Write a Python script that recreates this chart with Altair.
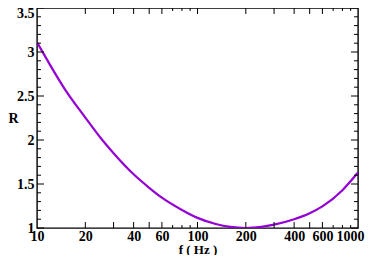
import altair as alt
import pandas as pd

# curve data
f_hz = [10, 12, 15, 20, 25, 30, 40, 50, 60, 80, 100, 130, 160, 200, 250, 300, 400, 500, 600, 800, 1000]
r_vals = [3.11, 2.86, 2.57, 2.255, 2.02, 1.85, 1.61, 1.457, 1.345, 1.205, 1.115, 1.045, 1.012, 1.0, 1.012, 1.038, 1.10, 1.168, 1.245, 1.43, 1.63]

x_labels = [10, 20, 40, 60, 100, 200, 400, 600, 1000]
x_major_ticks = [20, 30, 40, 50, 60, 100, 200, 300, 400, 500, 600]
x_minor_ticks = [70, 80, 90, 700, 800, 900]
y_labels = [1, 1.5, 2, 2.5, 3, 3.5]
y_minor_ticks = [1.1, 1.2, 1.3, 1.4, 1.6, 1.7, 1.8, 1.9, 2.1, 2.2, 2.3, 2.4,
                 2.6, 2.7, 2.8, 2.9, 3.1, 3.2, 3.3, 3.4]

W, H = 321, 220
FONT = "Liberation Serif"

df = pd.DataFrame({"f": f_hz, "R": r_vals})
xs = alt.Scale(type="log", domain=[10, 1000])
ys = alt.Scale(domain=[1, 3.5])

x_axis = alt.Axis(
    values=x_labels, format="d", title="f ( Hz )", labelFlush=False, labelOverlap=False,
    labelPadding=1, labelBaseline="top", titleY=25, titleBaseline="alphabetic",
    titleFontSize=13,
    labelOffset={"condition": {"test": "datum.value == 1000", "value": -8}, "value": 0})
y_axis = alt.Axis(
    values=y_labels, format="~g", title="R", titleAngle=0, titleX=-24, titleY=H / 2,
    titleAlign="center", titleBaseline="middle", labelPadding=3, labelFlush=False,
    labelOverlap=False,
    labelOffset={"condition": {"test": "datum.value == 3.5", "value": 5}, "value": 0})

line = alt.Chart(df).mark_line(
    color="#9400D3", strokeWidth=2.2, interpolate="monotone", clip=True
).encode(
    x=alt.X("f:Q", scale=xs, axis=x_axis),
    y=alt.Y("R:Q", scale=ys, axis=y_axis),
)


def xticks(vals, length):
    d = pd.DataFrame({"f": vals})
    b = alt.Chart(d).mark_rule(color="black", strokeWidth=1)
    bottom = b.encode(x=alt.X("f:Q", scale=xs, axis=x_axis), y=alt.value(H), y2=alt.value(H - length))
    top = b.encode(x=alt.X("f:Q", scale=xs, axis=x_axis), y=alt.value(0), y2=alt.value(length))
    return [bottom, top]


def yticks(vals, length):
    d = pd.DataFrame({"R": vals})
    b = alt.Chart(d).mark_rule(color="black", strokeWidth=1)
    left = b.encode(y=alt.Y("R:Q", scale=ys, axis=y_axis), x=alt.value(0), x2=alt.value(length))
    right = b.encode(y=alt.Y("R:Q", scale=ys, axis=y_axis), x=alt.value(W), x2=alt.value(W - length))
    return [left, right]


layers = [line] + xticks(x_major_ticks, 6) + xticks(x_minor_ticks, 3) \
    + yticks(y_labels, 7) + yticks(y_minor_ticks, 4)

chart = alt.layer(*layers).properties(
    width=W, height=H,
    autosize=alt.AutoSizeParams(type="none"),
    padding={"left": 29, "top": 0, "right": 8, "bottom": 27},
).configure_view(
    stroke="black", strokeWidth=1.4
).configure_axis(
    domain=False, ticks=False, tickSize=0, grid=False,
    labelFont=FONT, labelFontWeight="bold", labelFontSize=14, labelColor="black",
    titleFont=FONT, titleFontWeight="bold", titleFontSize=14, titleColor="black",
)

chart.save("out.html", embed_options={"renderer": "svg", "actions": False})
